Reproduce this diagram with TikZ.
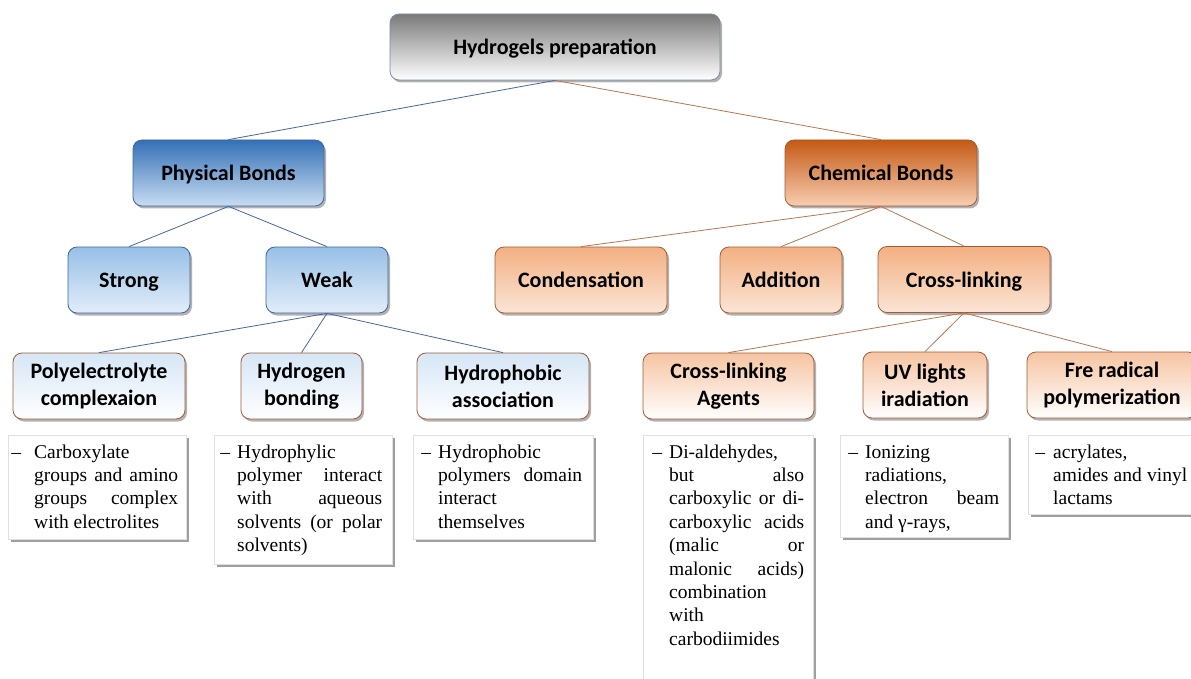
\documentclass[tikz,border=0pt]{standalone}
\usepackage{fontspec}
\setmainfont{Liberation Serif}
\newfontfamily\calibri{Carlito}
\usetikzlibrary{shadows}
\definecolor{lineblue}{RGB}{72,102,152}
\definecolor{lineorange}{RGB}{182,118,78}
\definecolor{bordgray}{RGB}{120,140,168}
\definecolor{bordblue}{RGB}{62,102,158}
\definecolor{bordbrown}{RGB}{160,92,52}
\definecolor{physTop}{RGB}{52,112,182}
\definecolor{physBot}{RGB}{200,221,242}
\definecolor{weakTop}{RGB}{152,192,230}
\definecolor{weakBot}{RGB}{226,237,249}
\definecolor{pthreeTop}{RGB}{214,230,246}
\definecolor{chemTop}{RGB}{196,90,20}
\definecolor{chemBot}{RGB}{248,205,178}
\definecolor{ctwoTop}{RGB}{243,176,130}
\definecolor{ctwoBot}{RGB}{251,229,214}
\definecolor{cthreeTop}{RGB}{246,196,162}
\newcommand\jline[2]{\makebox[#1][s]{\strut#2}}
\newcommand\lline[1]{\strut#1}
\newcommand\dline[2]{\llap{\textendash\hspace{#1}}\strut#2}
\tikzset{
  box/.style={rounded corners=9pt, draw, line width=0.8pt, minimum height=66pt,
    inner sep=0pt, align=center,
    font=\calibri\bfseries\fontsize{22}{27}\selectfont,
    drop shadow={shadow xshift=2pt, shadow yshift=-2.5pt, opacity=0.3, fill=black}},
  oneline/.style={text depth=0pt},
  topbox/.style={box, oneline, draw=bordgray, top color=black!52, bottom color=white},
  physbox/.style={box, oneline, draw=bordblue, top color=physTop, bottom color=physBot},
  weakbox/.style={box, oneline, draw=bordblue, top color=weakTop, bottom color=weakBot},
  pthree/.style={box, draw=bordbrown, top color=pthreeTop, bottom color=white},
  chembox/.style={box, oneline, draw=bordbrown, top color=chemTop, bottom color=chemBot},
  ctwo/.style={box, oneline, draw=bordbrown, top color=ctwoTop, bottom color=ctwoBot},
  cthree/.style={box, draw=bordbrown, top color=cthreeTop, bottom color=white},
  tbox/.style={draw=black!12, fill=white, line width=0.5pt, inner sep=0pt, anchor=north west,
    drop shadow={shadow xshift=2.5pt, shadow yshift=-2.5pt, opacity=0.5, fill=black!75}},
  ttext/.style={inner sep=0pt, anchor=north west, align=left,
    font=\fontsize{19.5}{23.4}\selectfont},
  bl/.style={draw=lineblue, line width=0.8pt},
  ol/.style={draw=lineorange, line width=0.8pt}
}
\begin{document}
\begin{tikzpicture}[x=1pt,y=-1pt]
\useasboundingbox (0,0) rectangle (1191,679);
% main nodes
\node[topbox, minimum width=330pt] (top) at (555,47) {Hydrogels preparation};
\node[physbox, minimum width=191pt] (phys) at (228.5,173) {Physical Bonds};
\node[chembox, minimum width=192pt] (chem) at (881,173) {Chemical Bonds};
\node[weakbox, minimum width=122pt] (strong) at (129,280) {Strong};
\node[weakbox, minimum width=122pt] (weak) at (327,280) {Weak};
\node[ctwo, minimum width=172pt] (cond) at (581,280) {Condensation};
\node[ctwo, minimum width=122pt] (add) at (781,280) {Addition};
\node[ctwo, minimum width=172pt] (cross) at (964,279.5) {Cross-linking};
\node[pthree, minimum width=172pt] (poly) at (99,386) {Polyelectrolyte\\complexaion};
\node[pthree, minimum width=121pt] (hbond) at (301.5,386) {Hydrogen\\bonding};
\node[pthree, minimum width=172pt] (hphob) at (503,386) {Hydrophobic\\association};
\node[cthree, minimum width=171pt] (cla) at (728.5,386) {Cross-linking\\Agents};
\node[cthree, minimum width=124pt] (uv) at (925,385) {UV lights\\iradiation};
\node[cthree, minimum width=170pt] (fre) at (1112,385) {Fre radical\\polymerization};
% connectors
\draw[bl] (top.south) -- (phys.north);
\draw[ol] (top.south) -- (chem.north);
\draw[bl] (phys.south) -- (strong.north);
\draw[bl] (phys.south) -- (weak.north);
\draw[bl] (weak.south) -- (poly.north);
\draw[bl] (weak.south) -- (hbond.north);
\draw[bl] (weak.south) -- (hphob.north);
\draw[ol] (chem.south) -- (cond.north);
\draw[ol] (chem.south) -- (add.north);
\draw[ol] (chem.south) -- (cross.north);
\draw[ol] (cross.south) -- (cla.north);
\draw[ol] (cross.south) -- (uv.north);
\draw[ol] (cross.south) -- (fre.north);
% text boxes
\node[tbox, minimum width=178pt, minimum height=104pt] (b1) at (8,435) {};
\node[tbox, minimum width=178pt, minimum height=129pt] (b2) at (214,435) {};
\node[tbox, minimum width=180pt, minimum height=104pt] (b3) at (413,435) {};
\node[tbox, minimum width=170pt, minimum height=270pt] (b4) at (643,435) {};
\node[tbox, minimum width=168pt, minimum height=102pt] (b5) at (840,435) {};
\node[tbox, minimum width=180pt, minimum height=79pt] (b6) at (1028,435) {};
\node[ttext] (t1) at (34,441.5) {\dline{13pt}{Carboxylate}\\\jline{144pt}{groups and amino}\\\jline{144pt}{groups complex}\\\lline{with electrolites}};
\node[ttext] (t2) at (237,441.5) {\dline{7pt}{Hydrophylic}\\\jline{145pt}{polymer interact}\\\jline{145pt}{with aqueous}\\\jline{145pt}{solvents (or polar}\\\lline{solvents)}};
\node[ttext] (t3) at (438,441.5) {\dline{7pt}{Hydrophobic}\\\jline{144pt}{polymers domain}\\\lline{interact}\\\lline{themselves}};
\node[ttext] (t4) at (669,441.5) {\dline{7pt}{Di-aldehydes,}\\\jline{135pt}{but also}\\\jline{135pt}{carboxylic or di-}\\\jline{135pt}{carboxylic acids}\\\jline{135pt}{(malic or}\\\jline{135pt}{malonic acids)}\\\lline{combination}\\\lline{with}\\\lline{carbodiimides}};
\node[ttext] (t5) at (865,441.5) {\dline{7pt}{Ionizing}\\\lline{radiations,}\\\jline{134pt}{electron beam}\\\lline{and γ-rays,}};
\node[ttext] (t6) at (1053,441.5) {\dline{8pt}{acrylates,}\\\jline{134pt}{amides and vinyl}\\\lline{lactams}};
\end{tikzpicture}
\end{document}
